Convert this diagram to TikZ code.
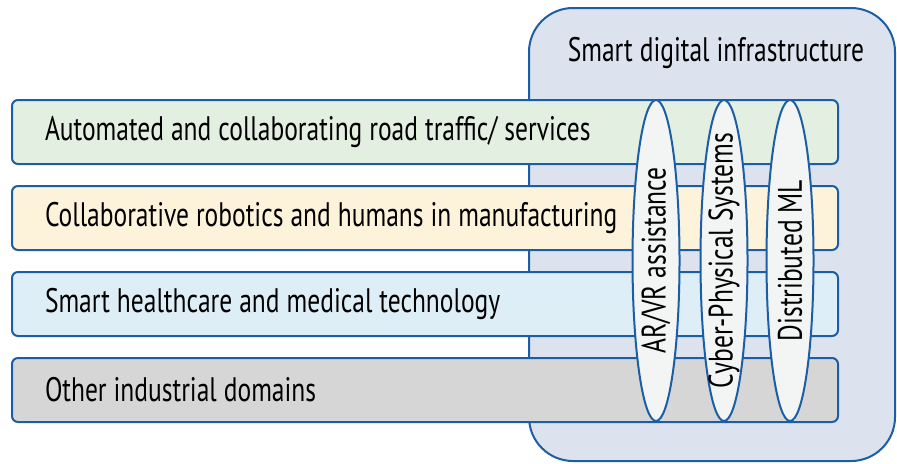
\documentclass[tikz,border=0pt]{standalone}
\usepackage{fontspec}
\setmainfont{PT Sans}[FakeStretch=0.75]
\usepackage{tikz}
\usetikzlibrary{shapes.geometric, positioning}
\definecolor{edgeblue}{RGB}{28,94,164}
\definecolor{infrafill}{RGB}{220,227,238}
\definecolor{trafficfill}{RGB}{227,239,224}
\definecolor{robotfill}{RGB}{253,242,218}
\definecolor{healthfill}{RGB}{222,238,247}
\definecolor{otherfill}{RGB}{214,214,214}
\definecolor{pillarfill}{RGB}{243,245,245}
\newcommand{\diagfont}{\fontsize{17}{20}\selectfont\spaceskip=3.5pt\relax}
\tikzstyle{infra} = [draw=edgeblue, line width=1pt, fill=infrafill, rounded corners=22pt]
\tikzstyle{domainbar} = [rectangle, rounded corners=3pt, draw=edgeblue, line width=1pt, minimum width=413pt, minimum height=32pt, text width=380pt, inner xsep=16.5pt, align=left, font=\diagfont, execute at begin node={\spaceskip=3.5pt\relax}]
\tikzstyle{pillar} = [ellipse, draw=edgeblue, line width=1pt, fill=pillarfill, minimum width=23.5pt, minimum height=160.5pt, inner sep=0pt]
\tikzstyle{pillartext} = [rotate=90, font=\diagfont, inner sep=0pt]
\begin{document}
\begin{tikzpicture}[x=0.5pt,y=-0.5pt,node distance=43pt]
\useasboundingbox (0,0) rectangle (897,463);
\draw [infra] (529,8) rectangle (895,461);
\node (title) at (716,53) [font=\diagfont] {Smart digital infrastructure};

\node (traffic) at (425,132) [domainbar, fill=trafficfill] {Automated and collaborating road traffic/ services};
\node (robotics) [domainbar, fill=robotfill, below of=traffic] {Collaborative robotics and humans in manufacturing};
\node (health) [domainbar, fill=healthfill, below of=robotics] {Smart healthcare and medical technology};
\node (other) [domainbar, fill=otherfill, below of=health] {Other industrial domains};

\node (arvr) at (656,260.5) [pillar] {};
\node (cps) at (724,260.5) [pillar] {};
\node (dml) at (790,260.5) [pillar] {};
\node (arvrtext) at (arvr) [pillartext] {AR/VR assistance};
\node (cpstext) at (cps) [pillartext] {Cyber-Physical Systems};
\node (dmltext) at (dml) [pillartext] {Distributed ML};
\end{tikzpicture}
\end{document}
